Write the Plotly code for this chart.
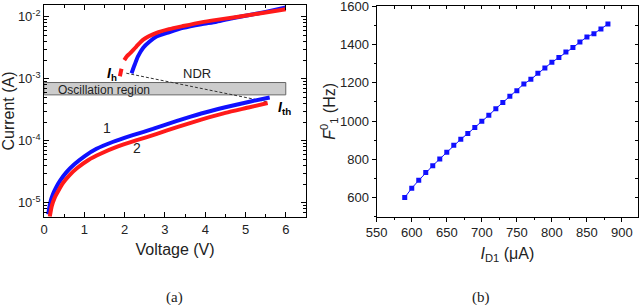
import plotly.graph_objects as go
import math

# ---------------- data: panel (a) ----------------
v_low_1 = [0.10, 0.15, 0.22, 0.30, 0.40, 0.55, 0.75, 1.00, 1.30, 1.70, 2.20, 2.70, 3.30, 3.90, 4.50, 5.10, 5.60]
i_low_1 = [6.5e-6, 1.0e-5, 1.38e-5, 1.78e-5, 2.29e-5, 3.09e-5, 4.17e-5, 5.62e-5, 7.41e-5, 9.55e-5,
           1.23e-4, 1.55e-4, 2.09e-4, 2.75e-4, 3.47e-4, 4.27e-4, 5.0e-4]
v_low_2 = [0.14, 0.19, 0.26, 0.35, 0.47, 0.62, 0.82, 1.10, 1.40, 1.80, 2.30, 2.80, 3.30, 3.90, 4.50, 5.10, 5.55]
i_low_2 = [6.0e-6, 8.9e-6, 1.20e-5, 1.55e-5, 2.09e-5, 2.75e-5, 3.63e-5, 4.90e-5, 6.17e-5, 7.94e-5,
           1.02e-4, 1.29e-4, 1.66e-4, 2.19e-4, 2.82e-4, 3.47e-4, 4.07e-4]
v_up_1 = [2.17, 2.21, 2.25, 2.33, 2.46, 2.62, 2.79, 3.10, 3.45, 3.90, 4.28, 4.70, 5.10, 5.50, 6.00]
i_up_1 = [1.23e-3, 1.45e-3, 1.70e-3, 2.29e-3, 3.16e-3, 3.98e-3, 4.79e-3, 5.62e-3, 6.61e-3, 7.59e-3,
          8.32e-3, 9.55e-3, 1.07e-2, 1.20e-2, 1.41e-2]
v_up_2a = [1.88, 1.92]
i_up_2a = [1.10e-3, 1.45e-3]
v_up_2 = [1.99, 2.05, 2.13, 2.29, 2.46, 2.79, 3.10, 3.45, 3.90, 4.28, 4.70, 5.10, 5.50, 6.00]
i_up_2 = [2.00e-3, 2.29e-3, 2.57e-3, 3.31e-3, 4.27e-3, 5.50e-3, 6.31e-3, 7.08e-3, 8.13e-3, 8.91e-3,
          9.77e-3, 1.07e-2, 1.17e-2, 1.32e-2]
ndr_v = [2.04, 5.52]
ndr_i = [1.23e-3, 4.27e-4]
osc_v = [0.0, 6.0]
osc_i = [5.5e-4, 8.7e-4]
y_tick_vals = [1e-5, 1e-4, 1e-3, 1e-2]
y_tick_text = ["10<sup>-5</sup>", "10<sup>-4</sup>", "10<sup>-3</sup>", "10<sup>-2</sup>"]

# ---------------- data: panel (b) ----------------
i_d1 = list(range(590, 881, 10))
f_10 = [600, 649, 690, 731, 767, 802, 837, 873, 905, 935, 966, 999, 1030, 1065, 1097,
        1130, 1159, 1194, 1218, 1250, 1278, 1307, 1332, 1361, 1384, 1413, 1440, 1457, 1481, 1507]

BLUE = "#1010ff"
RED = "#ff1a1a"
FONT = "Liberation Sans, Arial, sans-serif"

fig = go.Figure()

fig.add_trace(go.Scatter(x=[osc_v[0], osc_v[1], osc_v[1], osc_v[0], osc_v[0]],
                         y=[osc_i[0], osc_i[0], osc_i[1], osc_i[1], osc_i[0]],
                         fill="toself", fillcolor="#cccccc", mode="lines",
                         line=dict(color="#666666", width=1), showlegend=False,
                         xaxis="x", yaxis="y", hoverinfo="skip"))
fig.add_trace(go.Scatter(x=ndr_v, y=ndr_i, mode="lines",
                         line=dict(color="#333333", width=1, dash="3px,2px"),
                         showlegend=False, xaxis="x", yaxis="y"))
for vx, iy, col in [(v_low_1, i_low_1, BLUE), (v_up_1, i_up_1, BLUE),
                    (v_low_2, i_low_2, RED), (v_up_2a, i_up_2a, RED), (v_up_2, i_up_2, RED)]:
    fig.add_trace(go.Scatter(x=vx, y=iy, mode="lines",
                             line=dict(color=col, width=4, shape="spline", smoothing=0.6),
                             showlegend=False, xaxis="x", yaxis="y"))

fig.add_trace(go.Scatter(x=i_d1, y=f_10, mode="lines+markers",
                         line=dict(color=BLUE, width=1),
                         marker=dict(symbol="square", size=5, color=BLUE),
                         showlegend=False, xaxis="x2", yaxis="y2"))
fig.add_trace(go.Scatter(x=[i_d1[0]], y=[f_10[0]], mode="markers", marker=dict(opacity=0),
                         showlegend=False, xaxis="x3", yaxis="y3", hoverinfo="skip"))

minor_log = [m * 10 ** e for e in range(-6, -1) for m in range(2, 10)]

axis_common = dict(showline=True, linecolor="black", linewidth=1.2, showgrid=False, zeroline=False,
                   automargin=False, ticklabeloverflow="allow",
                   tickfont=dict(family=FONT, size=13, color="#222"), tickcolor="black")

fig.update_layout(
    width=640, height=305, margin=dict(l=0, r=0, t=0, b=0),
    plot_bgcolor="white", paper_bgcolor="white",
    font=dict(family=FONT, color="#222"),
    xaxis=dict(domain=[0.069, 0.478], anchor="y", range=[0, 6.5], dtick=1, ticks="inside",
               ticklen=5, mirror="ticks", minor=dict(dtick=0.5, ticks="inside", ticklen=3),
               title=dict(text="Voltage (V)", font=dict(size=16), standoff=8), **axis_common),
    yaxis=dict(domain=[0.2885, 0.9836], anchor="x", type="log",
               range=[-5.23, -1.81],
               tickmode="array", tickvals=y_tick_vals, ticktext=y_tick_text, ticks="inside",
               ticklen=5, mirror="ticks",
               minor=dict(tickmode="array", tickvals=minor_log, ticks="inside", ticklen=3),
               title=dict(text="Current (A)", font=dict(size=16), standoff=4), **axis_common),
    xaxis2=dict(domain=[0.5886, 0.997], anchor="y2", range=[550, 923], dtick=50, ticks="outside",
                ticklen=4, mirror=True, minor=dict(dtick=25, ticks="outside", ticklen=2),
                title=dict(text="<i>I</i><sub>D1</sub> (\u03bcA)", font=dict(size=16), standoff=8),
                **axis_common),
    yaxis2=dict(domain=[0.2895, 0.980], anchor="x2", range=[500, 1601], dtick=200, ticks="outside",
                ticklen=4, mirror=True, minor=dict(dtick=100, ticks="outside", ticklen=2),
                title=dict(text="<i>F</i><sup>0</sup><sub>1</sub> (Hz)", font=dict(size=16), standoff=0),
                **axis_common),
    xaxis3=dict(overlaying="x2", anchor="y2", side="top", range=[550, 923], dtick=25,
                ticks="inside", ticklen=3, showticklabels=False, showgrid=False, zeroline=False,
                showline=False, tickcolor="black", automargin=False),
    yaxis3=dict(overlaying="y2", anchor="x2", side="right", range=[500, 1601], dtick=100,
                ticks="inside", ticklen=3, showticklabels=False, showgrid=False, zeroline=False,
                showline=False, tickcolor="black", automargin=False),
)

ann = [
    dict(x=1.68, y=-2.93, text="<b><i>I</i></b><sub><b>h</b></sub>", font=dict(size=14, color="black")),
    dict(x=5.97, y=-3.47, text="<b><i>I</i></b><sub><b>th</b></sub>", font=dict(size=14, color="black")),
    dict(x=3.79, y=-2.92, text="NDR", font=dict(size=13, color="#222")),
    dict(x=0.29, y=-3.175, text="Oscillation region", xanchor="left", font=dict(size=12, color="#222")),
    dict(x=1.56, y=-3.79, text="1", font=dict(size=14, color="#222")),
    dict(x=2.30, y=-4.11, text="2", font=dict(size=14, color="#222")),
]
for a in ann:
    a.update(xref="x", yref="y", showarrow=False)
    fig.add_annotation(**a)

for label, cx in [("(a)", 174), ("(b)", 481)]:
    fig.add_annotation(x=cx / 640, y=(305 - 297) / 305, xref="paper", yref="paper", text=label,
                       xanchor="center", yanchor="middle", showarrow=False,
                       font=dict(family="Liberation Serif, Times New Roman, serif", size=15, color="#222"))

fig.write_html("out.html", config={"displayModeBar": False},
               post_script="document.body.style.margin='0';document.body.style.padding='0';"
                           "document.documentElement.style.overflow='hidden';")
